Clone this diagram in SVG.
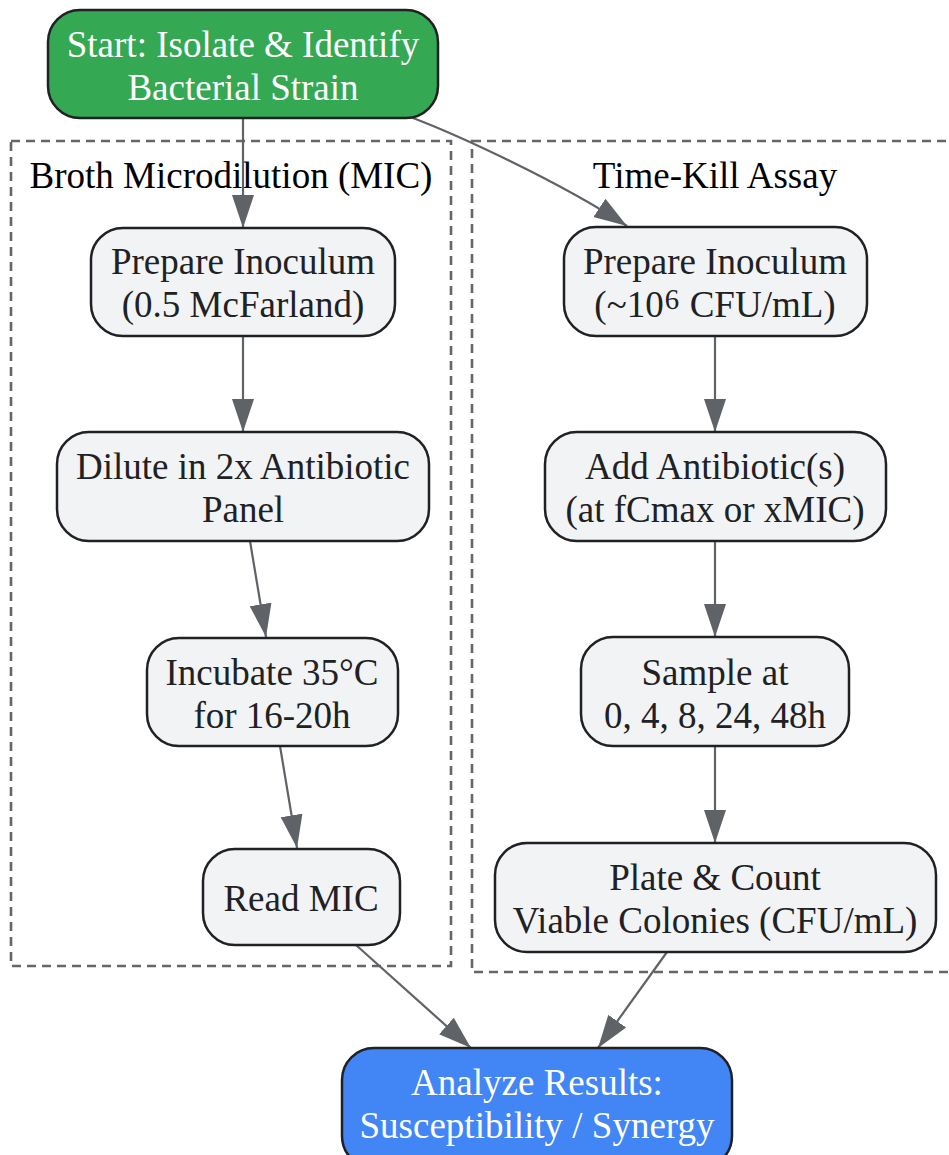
<svg xmlns="http://www.w3.org/2000/svg" width="949" height="1155" viewBox="0 0 949 1155">
<defs>
<style>
text{font-family:"Liberation Serif","Times New Roman",serif;font-size:37px;text-anchor:middle;fill:#202124}
.node{fill:#f1f3f4;stroke:#202124;stroke-width:2.5}
.start{fill:#34a853;stroke:#202124;stroke-width:2.5}
.end{fill:#4285f4;stroke:#202124;stroke-width:2.5}
.light{fill:#ffffff}
.cluster{fill:none;stroke:#666666;stroke-width:2.6;stroke-dasharray:9,6}
.edge{fill:none;stroke:#5f6368;stroke-width:2.2}
.clabel{fill:#000000}
</style>
<marker id="arrow" markerUnits="userSpaceOnUse" viewBox="0 0 34 24" markerWidth="34" markerHeight="24" refX="33" refY="12" orient="auto">
<path d="M0,1 L33,12 L0,23 z" fill="#5f6368"/>
</marker>
</defs>
<rect width="949" height="1155" fill="#ffffff"/>
<g id="cluster-mic">
<rect class="cluster" x="11" y="141" width="440" height="825"/>
<text class="clabel" x="231" y="188">Broth Microdilution (MIC)</text>
</g>
<g id="cluster-timekill">
<rect class="cluster" x="472" y="141" width="490" height="831"/>
<text class="clabel" x="715" y="188">Time-Kill Assay</text>
</g>
<g id="connectors">
<path class="edge" d="M243,118 L243,228" marker-end="url(#arrow)"/>
<path class="edge" d="M413,118 C460,136 560,182 627,226" marker-end="url(#arrow)"/>
<path class="edge" d="M243,336 L243,432" marker-end="url(#arrow)"/>
<path class="edge" d="M250,541 L266,637" marker-end="url(#arrow)"/>
<path class="edge" d="M280,746 L297,848" marker-end="url(#arrow)"/>
<path class="edge" d="M715,336 L715,432" marker-end="url(#arrow)"/>
<path class="edge" d="M715,541 L715,637" marker-end="url(#arrow)"/>
<path class="edge" d="M715,746 L715,843" marker-end="url(#arrow)"/>
<path class="edge" d="M356,945 L471,1048" marker-end="url(#arrow)"/>
<path class="edge" d="M667,952 L598,1048" marker-end="url(#arrow)"/>
</g>
<g id="start">
<rect class="start" x="48" y="10" width="390" height="108" rx="32"/>
<text class="light" x="243" y="57">Start: Isolate &amp; Identify</text>
<text class="light" x="243" y="100">Bacterial Strain</text>
</g>
<g id="mic-prepare">
<rect class="node" x="91" y="228" width="304" height="108" rx="32"/>
<text x="243" y="274">Prepare Inoculum</text>
<text x="243" y="317">(0.5 McFarland)</text>
</g>
<g id="mic-dilute">
<rect class="node" x="57" y="432" width="372" height="109" rx="32"/>
<text x="243" y="479">Dilute in 2x Antibiotic</text>
<text x="243" y="522">Panel</text>
</g>
<g id="mic-incubate">
<rect class="node" x="147" y="638" width="251" height="108" rx="32"/>
<text x="272" y="685">Incubate 35°C</text>
<text x="272" y="728">for 16-20h</text>
</g>
<g id="mic-read">
<rect class="node" x="203" y="849" width="197" height="96" rx="32"/>
<text x="301" y="911">Read MIC</text>
</g>
<g id="tk-prepare">
<rect class="node" x="564" y="227" width="303" height="109" rx="32"/>
<text x="715" y="274">Prepare Inoculum</text>
<text x="715" y="317">(~10<tspan font-size="48" dy="4">⁶</tspan><tspan dy="-4"> CFU/mL)</tspan></text>
</g>
<g id="tk-add">
<rect class="node" x="545" y="432" width="341" height="109" rx="32"/>
<text x="715" y="479">Add Antibiotic(s)</text>
<text x="715" y="522">(at fCmax or xMIC)</text>
</g>
<g id="tk-sample">
<rect class="node" x="581" y="637" width="268" height="109" rx="32"/>
<text x="715" y="685">Sample at</text>
<text x="715" y="728">0, 4, 8, 24, 48h</text>
</g>
<g id="tk-plate">
<rect class="node" x="495" y="843" width="441" height="109" rx="32"/>
<text x="715" y="890">Plate &amp; Count</text>
<text x="715" y="933">Viable Colonies (CFU/mL)</text>
</g>
<g id="analyze">
<rect class="end" x="342" y="1048" width="390" height="120" rx="32"/>
<text class="light" x="537" y="1095">Analyze Results:</text>
<text class="light" x="537" y="1138">Susceptibility / Synergy</text>
</g>
</svg>
